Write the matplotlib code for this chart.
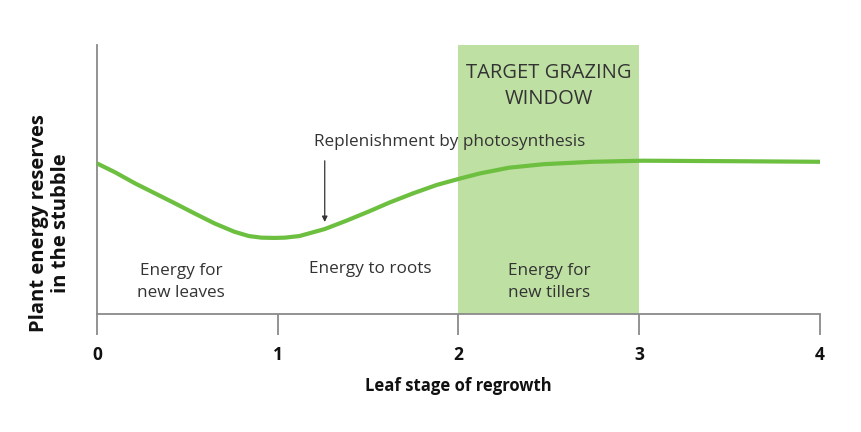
import matplotlib
matplotlib.use("Agg")
import matplotlib.pyplot as plt

plt.rcParams['font.family'] = ['Open Sans', 'DejaVu Sans']

# curve (leaf stage, relative energy reserves 0-100)
leaf_stage = [0.0, 0.10, 0.21, 0.32, 0.43, 0.54, 0.65, 0.76, 0.84, 0.91, 0.98,
              1.04, 1.12, 1.26, 1.38, 1.51, 1.62, 1.75, 1.88, 2.01, 2.12, 2.28,
              2.47, 2.74, 3.02, 3.56, 4.0]
reserves = [56.0, 52.7, 48.6, 44.9, 41.2, 37.4, 33.7, 30.6, 29.0, 28.4, 28.3,
            28.4, 29.0, 31.6, 34.7, 38.3, 41.5, 44.9, 48.0, 50.4, 52.3, 54.4,
            55.7, 56.6, 57.0, 56.8, 56.6]

window = (2, 3)
xticks = [0, 1, 2, 3, 4]
phase_labels = ["Energy for\nnew leaves", "Energy to roots", "Energy for\nnew tillers"]
phase_x = [0.465, 1.51, 2.5]
phase_y = [11.9, 16.7, 11.9]

line_col = '#6cbf3f'
shade_col = '#bfe0a3'
axis_col = '#8a8a8a'
text_col = '#333333'

fig = plt.figure(figsize=(8.62, 4.32), dpi=100)
ax = fig.add_axes([0.1125, 0.273, 0.8388, 0.6228])

ax.axvspan(window[0], window[1], color=shade_col, lw=0, zorder=0)
ax.plot(leaf_stage, reserves, color=line_col, lw=3, solid_capstyle='round',
        solid_joinstyle='round', zorder=3)

ax.set_xlim(0, 4)
ax.set_ylim(0, 100)

for s in ['top', 'right']:
    ax.spines[s].set_visible(False)
for s in ['left', 'bottom']:
    ax.spines[s].set_color(axis_col)
    ax.spines[s].set_linewidth(1.3)

ax.set_yticks([])
ax.set_xticks(xticks)
ax.tick_params(axis='x', length=15, width=1.3, color=axis_col, pad=8,
               labelsize=12.5)
for lbl in ax.get_xticklabels():
    lbl.set_fontweight('bold')
    lbl.set_color('#111111')

ax.set_xlabel("Leaf stage of regrowth", fontsize=12, fontweight='bold',
              color='#111111', labelpad=9)
ax.set_ylabel("Plant energy reserves\nin the stubble", fontsize=14.5,
              fontweight='bold', color='#111111', linespacing=1.1)
ax.yaxis.set_label_coords(-0.036, 0.338)

for lab, px, py in zip(phase_labels, phase_x, phase_y):
    ax.text(px, py, lab, ha='center', va='center', fontsize=12.3,
            color=text_col, linespacing=1.45)

ax.text(2.5, 84.8, "TARGET GRAZING\nWINDOW", ha='center', va='center',
        fontsize=14.5, color=text_col, linespacing=1.35)

ax.annotate("", xy=(1.26, 33.2), xytext=(1.26, 58.0),
            arrowprops=dict(arrowstyle='-|>', color='#333333', lw=0.9,
                            mutation_scale=8))
ax.text(1.2, 64, "Replenishment by photosynthesis", ha='left', va='center',
        fontsize=12.3, color=text_col)

fig.savefig("out.png", dpi=100)
